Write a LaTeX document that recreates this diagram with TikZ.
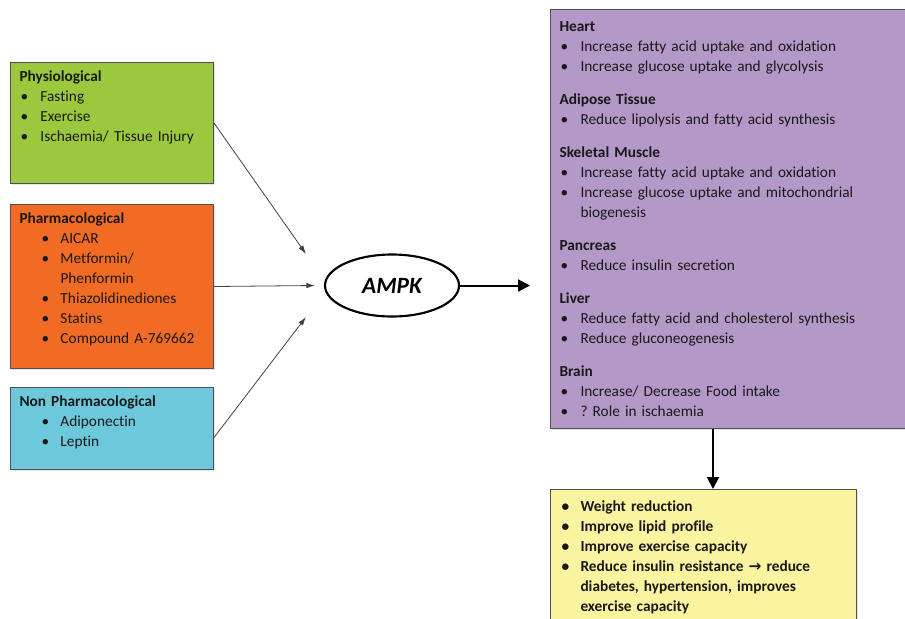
\documentclass[tikz,border=0pt]{standalone}
\usepackage{fontspec}
\setmainfont{Carlito}[Ligatures=NoCommon]
\newfontfamily\arrowfont{DejaVu Sans}
\usetikzlibrary{shapes.geometric,arrows.meta,shadows}

\definecolor{physgreen}{RGB}{155,200,60}
\definecolor{pharmorange}{RGB}{242,107,36}
\definecolor{nonpharmblue}{RGB}{108,200,218}
\definecolor{organpurple}{RGB}{180,152,200}
\definecolor{outyellow}{RGB}{250,243,160}
\definecolor{boxline}{RGB}{80,80,80}
\definecolor{txt}{RGB}{25,25,25}

\newlength\bulind
\newlength\txtind
\newcommand{\itm}[1]{\makebox[\txtind][l]{\hspace*{\bulind}\textbullet}#1}
\newcommand{\cnt}[1]{\hspace*{\txtind}#1}

\tikzset{
  listbox/.style={draw=boxline, line width=0.75pt, anchor=north west, align=left,
    inner xsep=6.75pt, inner ysep=0pt, text=txt,
    drop shadow={shadow xshift=0.9pt, shadow yshift=-0.9pt, fill=black!20},
    font=\fontsize{11.5pt}{15pt}\selectfont\frenchspacing},
  nearlist/.style={execute at begin node={\setlength\bulind{0.75pt}\setlength\txtind{15.75pt}}},
  farlist/.style={execute at begin node={\setlength\bulind{16.5pt}\setlength\txtind{30.75pt}}},
  inarrow/.style={draw=black!75, line width=0.6pt, -{Latex[length=6.5pt,width=4pt]}},
  bigarrow/.style={line width=1.5pt, -{Triangle[length=9pt,width=9pt]}}
}

\begin{document}
\begin{tikzpicture}[x=0.75pt,y=-0.75pt]
\useasboundingbox (0,0) rectangle (905,618);
\clip (0,0) rectangle (905,618);

% activators
\node[listbox, nearlist, fill=physgreen, text width=138.75pt,
  text height=14.5pt, text depth=76.25pt] (phys) at (10,62)
  {\textbf{Physiological}\\
   \itm{Fasting}\\
   \itm{Exercise}\\
   \itm{Ischaemia/ Tissue Injury}};

\node[listbox, farlist, fill=pharmorange, text width=138.75pt,
  text height=14.5pt, text depth=108.5pt] (pharm) at (10,204)
  {\textbf{Pharmacological}\\
   \itm{AICAR}\\
   \itm{Metformin/}\\
   \cnt{Phenformin}\\
   \itm{Thiazolidinediones}\\
   \itm{Statins}\\
   \itm{Compound A-769662}};

\node[listbox, farlist, fill=nonpharmblue, text width=138.75pt,
  text height=14.5pt, text depth=47pt] (nonpharm) at (10,387)
  {\textbf{Non Pharmacological}\\
   \itm{Adiponectin}\\
   \itm{Leptin}};

% AMPK
\node[ellipse, draw, line width=1.6pt, minimum width=100.5pt, minimum height=46.5pt,
  font=\fontsize{17.5pt}{20pt}\selectfont\bfseries\itshape] (ampk) at (392,285.5) {AMPK};

% effects on organs
\node[listbox, nearlist, fill=organpurple, text width=258pt,
  text height=16.5pt, text depth=297.75pt] (organs) at (550,9)
  {\textbf{Heart}\\
   \itm{Increase fatty acid uptake and oxidation}\\
   \itm{Increase glucose uptake and glycolysis}\\[9.75pt]
   \textbf{Adipose Tissue}\\
   \itm{Reduce lipolysis and fatty acid synthesis}\\[9.75pt]
   \textbf{Skeletal Muscle}\\
   \itm{Increase fatty acid uptake and oxidation}\\
   \itm{Increase glucose uptake and mitochondrial}\\
   \cnt{biogenesis}\\[9.75pt]
   \textbf{Pancreas}\\
   \itm{Reduce insulin secretion}\\[9.75pt]
   \textbf{Liver}\\
   \itm{Reduce fatty acid and cholesterol synthesis}\\
   \itm{Reduce gluconeogenesis}\\[9.75pt]
   \textbf{Brain}\\
   \itm{Increase/ Decrease Food intake}\\
   \itm{? Role in ischaemia}};

% clinical outcome
\node[listbox, fill=outyellow, text width=216pt,
  execute at begin node={\setlength\bulind{1.5pt}\setlength\txtind{15.75pt}},
  text height=16.5pt, text depth=90pt] (outcome) at (550,489)
  {\bfseries
   \itm{Weight reduction}\\
   \itm{Improve lipid profile}\\
   \itm{Improve exercise capacity}\\
   \itm{Reduce insulin resistance {\arrowfont\bfseries →} reduce}\\
   \cnt{diabetes, hypertension, improves}\\
   \cnt{exercise capacity}};

% arrows
\coordinate (tipA) at (306,254);
\coordinate (tipB) at (315,285.5);
\coordinate (tipC) at (306,317);
\coordinate (drop) at (713,0);

\draw[inarrow] (phys.east) -- (tipA);
\draw[inarrow] (pharm.east) -- (tipB);
\draw[inarrow] ([yshift=-6.75pt]nonpharm.east) -- (tipC);
\draw[bigarrow, shorten >=15pt] (ampk.east) -- (ampk.east -| organs.west);
\draw[bigarrow] (organs.south -| drop) -- (outcome.north -| drop);
\end{tikzpicture}
\end{document}
